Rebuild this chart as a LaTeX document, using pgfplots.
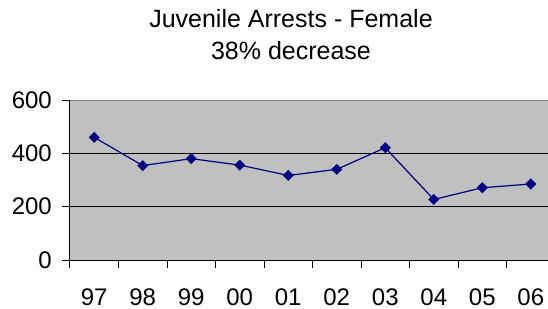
\documentclass[border=0pt]{standalone}
\usepackage{fontspec}
\setmainfont{Liberation Sans}
\usepackage{pgfplots}
\pgfplotsset{compat=1.18}
\definecolor{plotgray}{RGB}{192,192,192}
\definecolor{navyblue}{RGB}{0,0,128}
\begin{document}
\fontsize{24}{28}\selectfont
\begin{tikzpicture}
\useasboundingbox (-70pt,-48pt) rectangle (478pt,260pt);
\begin{axis}[
  at={(0pt,0pt)}, anchor=south west,
  scale only axis, width=485pt, height=160pt,
  xmin=0, xmax=10, ymin=0, ymax=600,
  axis x line*=bottom, axis y line*=left,
  axis line style={black, line width=1pt, -},
  axis background/.style={fill=plotgray, draw=gray, line width=1pt},
  xtick={0.5,1.5,2.5,3.5,4.5,5.5,6.5,7.5,8.5,9.5},
  xticklabels={97,98,99,00,01,02,03,04,05,06},
  minor xtick={0,1,2,3,4,5,6,7,8,9,10},
  major x tick style={draw=none},
  minor x tick style={black, line width=1pt},
  ytick={200,400},
  extra y ticks={0,600},
  extra y tick style={grid=none},
  ymajorgrids, grid style={black, line width=0.8pt},
  tick align=outside,
  major tick length=8pt, minor tick length=8pt,
  y tick style={black, line width=1pt},
  /pgf/number format/assume math mode=true,
  ticklabel style={font=\fontsize{24}{28}\selectfont},
  xticklabel style={anchor=base, inner sep=0pt, yshift=-37pt},
  yticklabel style={inner sep=0pt, xshift=-10pt},
  clip=false,
]
\addplot[navyblue, line width=1.2pt, mark=square*, mark size=3.3pt, mark options={fill=navyblue, solid, rotate=45}]
  coordinates {
  (0.5,460) (1.5,354) (2.5,380) (3.5,356) (4.5,317)
  (5.5,340) (6.5,421) (7.5,227) (8.5,271) (9.5,285)
  };
\end{axis}
\node[anchor=base, font=\fontsize{25}{30}\selectfont] at (221pt,232pt) {Juvenile Arrests - Female};
\node[anchor=base, font=\fontsize{25}{30}\selectfont] at (221pt,200pt) {38\% decrease};
\end{tikzpicture}
\end{document}
